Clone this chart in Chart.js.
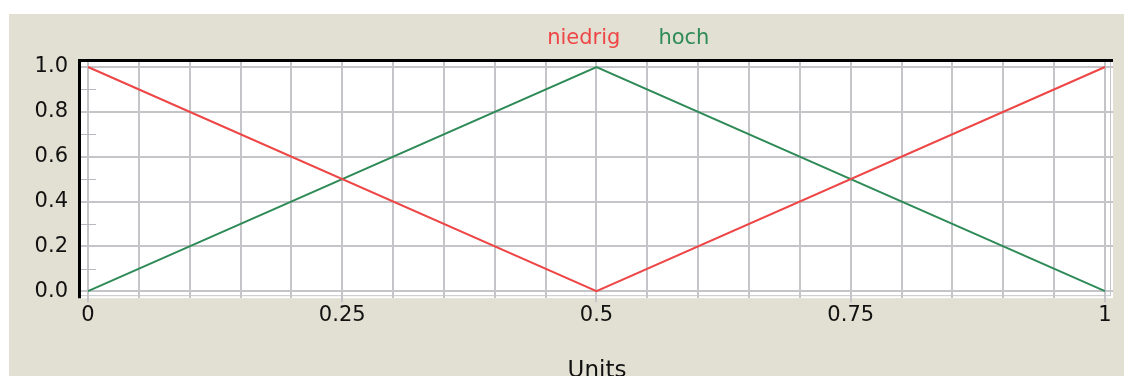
<!DOCTYPE html>
<html>
<head>
<meta charset="utf-8">
<script src="https://cdn.jsdelivr.net/npm/chart.js@4.4.1/dist/chart.umd.min.js"></script>
<style>
  html, body { margin: 0; padding: 0; background: #fff; }
  #wrap { position: absolute; left: 9px; top: 14px; width: 1115px; height: 362px; overflow: hidden; background: #e2e0d2; }
</style>
</head>
<body>
<div id="wrap"><canvas id="chart" width="1115" height="375"></canvas></div>
<script>
// membership functions
var xValues = [0, 0.5, 1];
var niedrig = [1, 0, 1];
var hoch = [0, 1, 0];

var xGrid = [0, 0.05, 0.1, 0.15, 0.2, 0.25, 0.3, 0.35, 0.4, 0.45, 0.5,
             0.55, 0.6, 0.65, 0.7, 0.75, 0.8, 0.85, 0.9, 0.95, 1];
var xLabels = ['0', '0.25', '0.5', '0.75', '1'];
var yGrid = [0, 0.1, 0.2, 0.3, 0.4, 0.5, 0.6, 0.7, 0.8, 0.9, 1];
var yLabels = ['0.0', '0.2', '0.4', '0.6', '0.8', '1.0'];

var fontName = '"DejaVu Sans", sans-serif';
var gridColor = '#c4c4c9';
var legendShift = 46;

function toPoints(xs, ys){
    var pts = [];
    xs.forEach(function(x, i){
        pts.push({x: x, y: ys[i]});
    });
    return pts;
}

function xText(v){
    var i = xLabels.indexOf(String(+v.toFixed(2)));
    return i >= 0 ? xLabels[i] : '';
}

function yText(v){
    var s = v.toFixed(1);
    return yLabels.indexOf(s) >= 0 ? s : '';
}

var framePlugin = {
    id: 'frame',
    beforeDraw: function(chart){
        var a = chart.chartArea;
        var ctx = chart.ctx;
        ctx.save();
        ctx.fillStyle = '#fff';
        ctx.fillRect(a.left, a.top, a.width, a.height);
        ctx.restore();
    },
    afterLayout: function(chart){
        chart.legend.left += legendShift;
        chart.legend.right += legendShift;
    },
    afterDraw: function(chart){
        var a = chart.chartArea;
        var ctx = chart.ctx;
        var ys = chart.scales.y;
        ctx.save();
        // short ticks on the unlabeled y values
        ctx.strokeStyle = '#b8b8be';
        ctx.lineWidth = 1;
        yGrid.forEach(function(v){
            if (yText(v) !== '') return;
            var py = Math.round(ys.getPixelForValue(v)) + 0.5;
            ctx.beginPath();
            ctx.moveTo(a.left, py);
            ctx.lineTo(a.left + 15, py);
            ctx.stroke();
        });
        // light inner frame right / bottom
        ctx.strokeStyle = gridColor;
        ctx.beginPath();
        ctx.moveTo(a.left, a.bottom - 2.5);
        ctx.lineTo(a.right - 2.5, a.bottom - 2.5);
        ctx.lineTo(a.right - 2.5, a.top);
        ctx.stroke();
        // dark sunken frame top / left
        ctx.strokeStyle = '#000';
        ctx.lineWidth = 3;
        ctx.beginPath();
        ctx.moveTo(a.left - 1.5, a.bottom);
        ctx.lineTo(a.left - 1.5, a.top - 1.5);
        ctx.lineTo(a.right, a.top - 1.5);
        ctx.stroke();
        ctx.restore();
    }
};

var ctx = document.getElementById('chart').getContext('2d');
var chart = new Chart(ctx, {
    type: 'scatter',
    data: {
        datasets: [{
            label: 'niedrig',
            data: toPoints(xValues, niedrig),
            borderColor: '#ee4646',
            backgroundColor: '#ee4646',
            borderWidth: 2,
            showLine: true,
            pointRadius: 0,
            fill: false
        }, {
            label: 'hoch',
            data: toPoints(xValues, hoch),
            borderColor: '#2e8b57',
            backgroundColor: '#2e8b57',
            borderWidth: 2,
            showLine: true,
            pointRadius: 0,
            fill: false
        }]
    },
    options: {
        responsive: false,
        animation: false,
        layout: { padding: { top: 3, left: 12.6, right: 11, bottom: 0 } },
        plugins: {
            tooltip: { enabled: false },
            legend: {
                display: true,
                position: 'top',
                labels: {
                    boxWidth: 19.5,
                    boxHeight: 27,
                    padding: 8,
                    font: { family: fontName, size: 21 },
                    generateLabels: function(chart){
                        return chart.data.datasets.map(function(ds, i){
                            return {
                                text: ds.label,
                                fontColor: ds.borderColor,
                                fillStyle: 'rgba(0,0,0,0)',
                                strokeStyle: 'rgba(0,0,0,0)',
                                lineWidth: 0,
                                hidden: false,
                                datasetIndex: i
                            };
                        });
                    }
                }
            }
        },
        scales: {
            x: {
                type: 'linear',
                min: -0.0069,
                max: 1.0079,
                afterBuildTicks: function(scale){
                    scale.ticks = xGrid.map(function(v){ return {value: v}; });
                },
                ticks: {
                    autoSkip: false,
                    maxRotation: 0,
                    padding: 1,
                    color: '#111',
                    font: { family: fontName, size: 21 },
                    callback: function(value){ return xText(value); }
                },
                grid: {
                    color: gridColor,
                    lineWidth: 2,
                    tickLength: 4,
                    tickColor: function(c){
                        return xText(c.tick.value) !== '' ? gridColor : 'rgba(0,0,0,0)';
                    }
                },
                border: { display: false },
                title: {
                    display: true,
                    text: 'Units',
                    color: '#111',
                    font: { family: fontName, size: 23 },
                    padding: { top: 28, bottom: 4 }
                }
            },
            y: {
                type: 'linear',
                min: -0.03125,
                max: 1.0223,
                afterBuildTicks: function(scale){
                    scale.ticks = yGrid.map(function(v){ return {value: v}; });
                },
                ticks: {
                    autoSkip: false,
                    padding: 13,
                    color: '#111',
                    font: { family: fontName, size: 21 },
                    callback: function(value){ return yText(value); }
                },
                grid: {
                    drawTicks: false,
                    lineWidth: 2,
                    color: function(c){
                        return yText(c.tick.value) !== '' ? gridColor : 'rgba(0,0,0,0)';
                    }
                },
                border: { display: false }
            }
        }
    },
    plugins: [framePlugin]
});
</script>
</body>
</html>
